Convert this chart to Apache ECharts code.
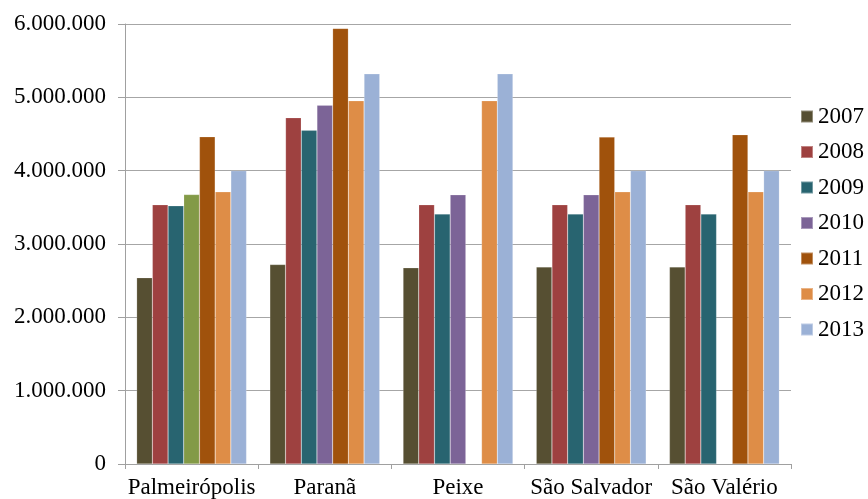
<!DOCTYPE html>
<html>
<head>
<meta charset="utf-8">
<script src="https://cdn.jsdelivr.net/npm/echarts@6/dist/echarts.min.js"></script>
<style>
  html, body { margin: 0; padding: 0; background: #fff; }
  #main { width: 868px; height: 499px; }
</style>
</head>
<body>
<div id="main"></div>
<script>
// municipios
const cities = ['Palmeirópolis', 'Paranã', 'Peixe', 'São Salvador', 'São Valério']
const years = ['2007', '2008', '2009', '2010', '2011', '2012', '2013']
const colors = ['#564F32', '#9E4140', '#286470', '#7C6497', '#A0520C', '#DE8D47', '#9BB1D6']

// valores por ano (null = sem barra)
const v2007 = [2540000, 2720000, 2675000, 2688000, 2688000]
const v2008 = [3535000, 4722000, 3535000, 3535000, 3535000]
const v2009 = [3520000, 4550000, 3408000, 3408000, 3408000]
const v2010 = [3675000, 4893000, 3670000, 3670000, null]
const v2011 = [4462000, 5940000, null, 4458000, 4490000]
const v2012 = [3711000, 4953000, 4953000, 3711000, 3711000]
const v2013 = [4000000, 5320000, 5320000, 4000000, 4000000]
const values = [v2007, v2008, v2009, v2010, v2011, v2012, v2013]

const font = '"Liberation Serif", "DejaVu Serif", serif'

function fmt(n) {
    return String(n).replace(/\B(?=(\d{3})+(?!\d))/g, '.')
}

let series = years.map((y, i) => {
    let data = values[i].map((v, j) => {
        if (v == null) return '-'
        // Palmeirópolis 2010 aparece verde no original
        if (i == 3 && j == 0) return { value: v, itemStyle: { color: '#839A47' } }
        return v
    })
    return {
        name: y,
        type: 'bar',
        data: data,
        barGap: '0%',
        barCategoryGap: '17.5%',
        itemStyle: {
            color: colors[i],
            borderColor: 'rgba(255,255,255,0.35)',
            borderWidth: 0.5
        }
    }
})

var myChart = echarts.init(document.getElementById('main'))
let option = {
    animation: false,
    backgroundColor: '#fff',
    color: colors,
    grid: { left: 125, right: 77, top: 24, bottom: 33 },
    legend: {
        orient: 'vertical',
        left: 795,
        top: 100,
        itemWidth: 12,
        itemHeight: 12,
        itemGap: 12.5,
        icon: 'rect',
        textStyle: { fontFamily: font, fontSize: 23, color: '#000', lineHeight: 22 },
        data: years
    },
    xAxis: {
        type: 'category',
        data: cities,
        axisLine: { lineStyle: { color: '#A0A0A0', width: 1 } },
        axisTick: { show: true, length: 5, lineStyle: { color: '#A0A0A0' } },
        axisLabel: { fontFamily: font, fontSize: 23, color: '#000', margin: 12, interval: 0 }
    },
    yAxis: {
        type: 'value',
        min: 0,
        max: 6000000,
        interval: 1000000,
        axisLine: { show: true, lineStyle: { color: '#A0A0A0' } },
        axisTick: { show: true, length: 7, lineStyle: { color: '#A0A0A0' } },
        splitLine: { lineStyle: { color: '#A6A6A6', width: 1 } },
        axisLabel: {
            fontFamily: font, fontSize: 23, color: '#000', margin: 19,
            formatter: v => fmt(v)
        }
    },
    series: series
}
myChart.setOption(option)
</script>
</body>
</html>
